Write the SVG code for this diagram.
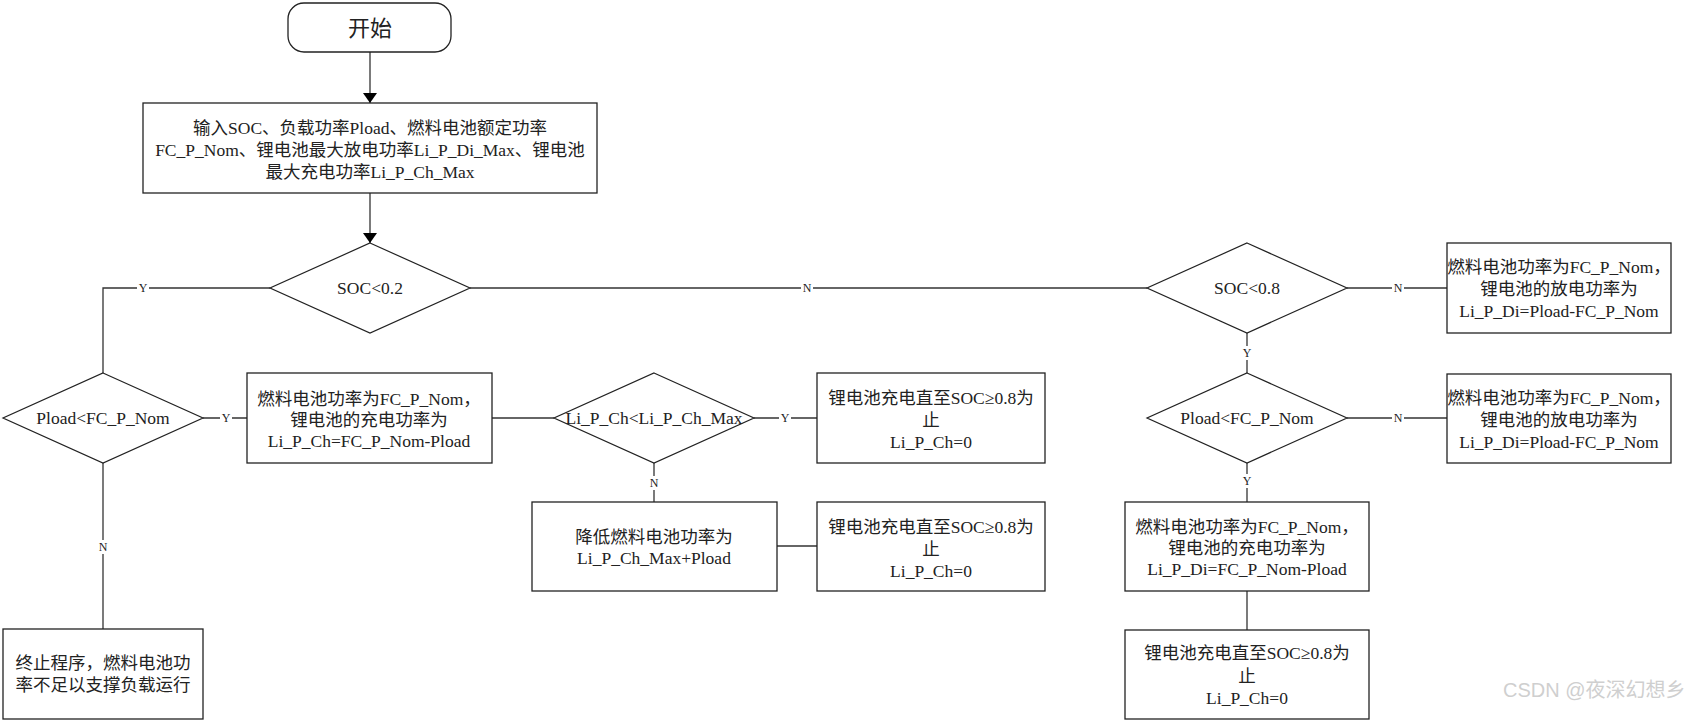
<svg xmlns="http://www.w3.org/2000/svg" width="1694" height="722" viewBox="0 0 1694 722">
<style>
.box{fill:#fff;stroke:#222;stroke-width:1.3}
.dia{fill:#fff;stroke:#222;stroke-width:1.2}
.ln{fill:none;stroke:#333;stroke-width:1.3}
.t{font-family:"Liberation Serif","Noto Sans CJK SC",serif;font-size:17.5px;fill:#222;text-anchor:middle}
.lbl{font-family:"Liberation Serif","Noto Sans CJK SC",serif;font-size:12px;fill:#222;text-anchor:middle}
.lb{fill:#fff;stroke:none}
.wm{font-family:"Liberation Sans","Noto Sans CJK SC",sans-serif;font-size:20px;fill:#cfcfcf}
</style>
<defs>
<marker id="arr" viewBox="0 0 10 14" refX="10" refY="7" markerWidth="10" markerHeight="14" markerUnits="userSpaceOnUse" orient="auto">
<path d="M0,0 L10,7 L0,14 Z" fill="#000"/>
</marker>
</defs>
<rect width="1694" height="722" fill="#fff"/>
<g id="connectors">
<line class="ln" x1="370" y1="52" x2="370" y2="103" marker-end="url(#arr)"/>
<line class="ln" x1="370" y1="193" x2="370" y2="243" marker-end="url(#arr)"/>
<polyline class="ln" points="270,288 103,288 103,373"/>
<line class="ln" x1="203" y1="418" x2="247" y2="418"/>
<line class="ln" x1="103" y1="463" x2="103" y2="629"/>
<line class="ln" x1="492" y1="418" x2="554" y2="418"/>
<line class="ln" x1="754" y1="418" x2="817" y2="418"/>
<line class="ln" x1="654" y1="463" x2="654" y2="502"/>
<line class="ln" x1="777" y1="546" x2="817" y2="546"/>
<line class="ln" x1="470" y1="288" x2="1147" y2="288"/>
<line class="ln" x1="1347" y1="288" x2="1447" y2="288"/>
<line class="ln" x1="1247" y1="333" x2="1247" y2="373"/>
<line class="ln" x1="1347" y1="418" x2="1447" y2="418"/>
<line class="ln" x1="1247" y1="463" x2="1247" y2="502"/>
<line class="ln" x1="1247" y1="591" x2="1247" y2="630"/>
<g id="labels">
<rect class="lb" x="137" y="281" width="12" height="14"/><text class="lbl" x="143" y="292">Y</text>
<rect class="lb" x="220" y="411" width="12" height="14"/><text class="lbl" x="226" y="422">Y</text>
<rect class="lb" x="779" y="411" width="12" height="14"/><text class="lbl" x="785" y="422">Y</text>
<rect class="lb" x="648" y="476" width="12" height="14"/><text class="lbl" x="654" y="487">N</text>
<rect class="lb" x="97" y="540" width="12" height="14"/><text class="lbl" x="103" y="551">N</text>
<rect class="lb" x="801" y="281" width="12" height="14"/><text class="lbl" x="807" y="292">N</text>
<rect class="lb" x="1392" y="281" width="12" height="14"/><text class="lbl" x="1398" y="292">N</text>
<rect class="lb" x="1241" y="346" width="12" height="14"/><text class="lbl" x="1247" y="357">Y</text>
<rect class="lb" x="1392" y="411" width="12" height="14"/><text class="lbl" x="1398" y="422">N</text>
<rect class="lb" x="1241" y="474" width="12" height="14"/><text class="lbl" x="1247" y="485">Y</text>
</g>
</g>
<g id="start">
<rect class="box" x="288" y="3" width="163" height="49" rx="16" ry="16"/>
<text class="t" x="370" y="36" style="font-size:22px">开始</text>
</g>
<g id="input">
<rect class="box" x="143" y="103" width="454" height="90"/>
<text class="t" x="370" y="134">输入SOC、负载功率Pload、燃料电池额定功率</text>
<text class="t" x="370" y="156">FC_P_Nom、锂电池最大放电功率Li_P_Di_Max、锂电池</text>
<text class="t" x="370" y="178">最大充电功率Li_P_Ch_Max</text>
</g>
<g id="soc02">
<polygon class="dia" points="370,243 470,288 370,333 270,288"/>
<text class="t" x="370" y="294">SOC&lt;0.2</text>
</g>
<g id="pload1">
<polygon class="dia" points="103,373 203,418 103,463 3,418"/>
<text class="t" x="103" y="424">Pload&lt;FC_P_Nom</text>
</g>
<g id="boxA">
<rect class="box" x="247" y="373" width="245" height="90"/>
<text class="t" x="369" y="405">燃料电池功率为FC_P_Nom，</text>
<text class="t" x="369" y="426">锂电池的充电功率为</text>
<text class="t" x="369" y="447">Li_P_Ch=FC_P_Nom-Pload</text>
</g>
<g id="lich">
<polygon class="dia" points="654,373 754,418 654,463 554,418"/>
<text class="t" x="654" y="424">Li_P_Ch&lt;Li_P_Ch_Max</text>
</g>
<g id="boxB">
<rect class="box" x="817" y="373" width="228" height="90"/>
<text class="t" x="931" y="404">锂电池充电直至SOC≥0.8为</text>
<text class="t" x="931" y="426">止</text>
<text class="t" x="931" y="448">Li_P_Ch=0</text>
</g>
<g id="boxC">
<rect class="box" x="532" y="502" width="245" height="89"/>
<text class="t" x="654" y="543">降低燃料电池功率为</text>
<text class="t" x="654" y="564">Li_P_Ch_Max+Pload</text>
</g>
<g id="boxD">
<rect class="box" x="817" y="502" width="228" height="89"/>
<text class="t" x="931" y="533">锂电池充电直至SOC≥0.8为</text>
<text class="t" x="931" y="555">止</text>
<text class="t" x="931" y="577">Li_P_Ch=0</text>
</g>
<g id="boxE">
<rect class="box" x="3" y="629" width="200" height="90"/>
<text class="t" x="103" y="669">终止程序，燃料电池功</text>
<text class="t" x="103" y="691">率不足以支撑负载运行</text>
</g>
<g id="soc08">
<polygon class="dia" points="1247,243 1347,288 1247,333 1147,288"/>
<text class="t" x="1247" y="294">SOC&lt;0.8</text>
</g>
<g id="boxF">
<rect class="box" x="1447" y="243" width="224" height="90"/>
<text class="t" x="1559" y="273">燃料电池功率为FC_P_Nom，</text>
<text class="t" x="1559" y="295">锂电池的放电功率为</text>
<text class="t" x="1559" y="317">Li_P_Di=Pload-FC_P_Nom</text>
</g>
<g id="pload2">
<polygon class="dia" points="1247,373 1347,418 1247,463 1147,418"/>
<text class="t" x="1247" y="424">Pload&lt;FC_P_Nom</text>
</g>
<g id="boxG">
<rect class="box" x="1447" y="374" width="224" height="89"/>
<text class="t" x="1559" y="404">燃料电池功率为FC_P_Nom，</text>
<text class="t" x="1559" y="426">锂电池的放电功率为</text>
<text class="t" x="1559" y="448">Li_P_Di=Pload-FC_P_Nom</text>
</g>
<g id="boxH">
<rect class="box" x="1125" y="502" width="244" height="89"/>
<text class="t" x="1247" y="533">燃料电池功率为FC_P_Nom，</text>
<text class="t" x="1247" y="554">锂电池的充电功率为</text>
<text class="t" x="1247" y="575">Li_P_Di=FC_P_Nom-Pload</text>
</g>
<g id="boxI">
<rect class="box" x="1125" y="630" width="244" height="89"/>
<text class="t" x="1247" y="659">锂电池充电直至SOC≥0.8为</text>
<text class="t" x="1247" y="682">止</text>
<text class="t" x="1247" y="704">Li_P_Ch=0</text>
</g>
<text class="wm" x="1503" y="697">CSDN @夜深幻想乡</text>
</svg>
